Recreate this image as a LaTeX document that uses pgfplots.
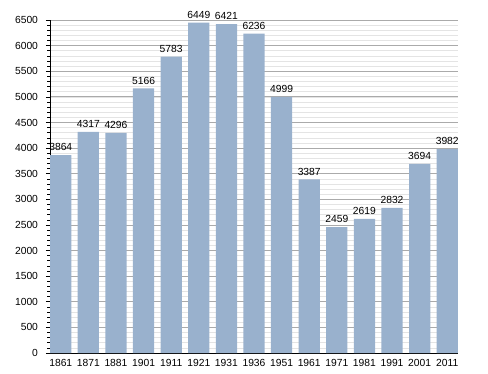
\documentclass[border=0pt]{standalone}
\usepackage{pgfplots}
\pgfplotsset{compat=1.18}
\usepackage{fontspec}
\setmainfont{Liberation Sans}
\definecolor{barc}{RGB}{153,177,205}
\definecolor{majg}{RGB}{170,170,170}
\definecolor{ming}{RGB}{228,228,228}
\begin{document}
\begin{tikzpicture}
\path (-50pt,-20pt) rectangle (438pt,353pt);
\begin{axis}[
  at={(0,0)}, anchor=south west,
  scale only axis, width=408pt, height=333pt,
  xmin=-0.39, xmax=14.39, ymin=0, ymax=6500,
  axis x line*=bottom, axis y line*=left,
  axis line style={black, line width=0.8pt, -},
  xtick=data,
  xticklabels={1861,1871,1881,1901,1911,1921,1931,1936,1951,1961,1971,1981,1991,2001,2011},
  x tick style={draw=none},
  ytick={0,500,...,6500},
  minor ytick={0,100,...,6500},
  tick align=outside,
  y tick style={black, line width=0.6pt},
  major tick length=4pt, minor tick length=2.5pt,
  ymajorgrids, yminorgrids,
  major grid style={majg, line width=0.8pt},
  minor grid style={ming, line width=0.6pt},
  tick label style={font=\fontsize{10.3}{12}\selectfont},
  /pgf/number format/assume math mode=true,
  yticklabel style={/pgf/number format/1000 sep={}, xshift=-4.5pt},
  xticklabel style={yshift=1pt},
  clip=false,
]
\addplot[ybar, bar width=0.77, fill=barc, draw=none,
  nodes near coords, nodes near coords style={font=\fontsize{10.3}{12}\selectfont, /pgf/number format/1000 sep={}, /pgf/number format/assume math mode=true, black, inner sep=2pt, yshift=2pt}]
coordinates {(0,3864) (1,4317) (2,4296) (3,5166) (4,5783) (5,6449) (6,6421) (7,6236) (8,4999) (9,3387) (10,2459) (11,2619) (12,2832) (13,3694) (14,3982)};
\end{axis}
\end{tikzpicture}
\end{document}
